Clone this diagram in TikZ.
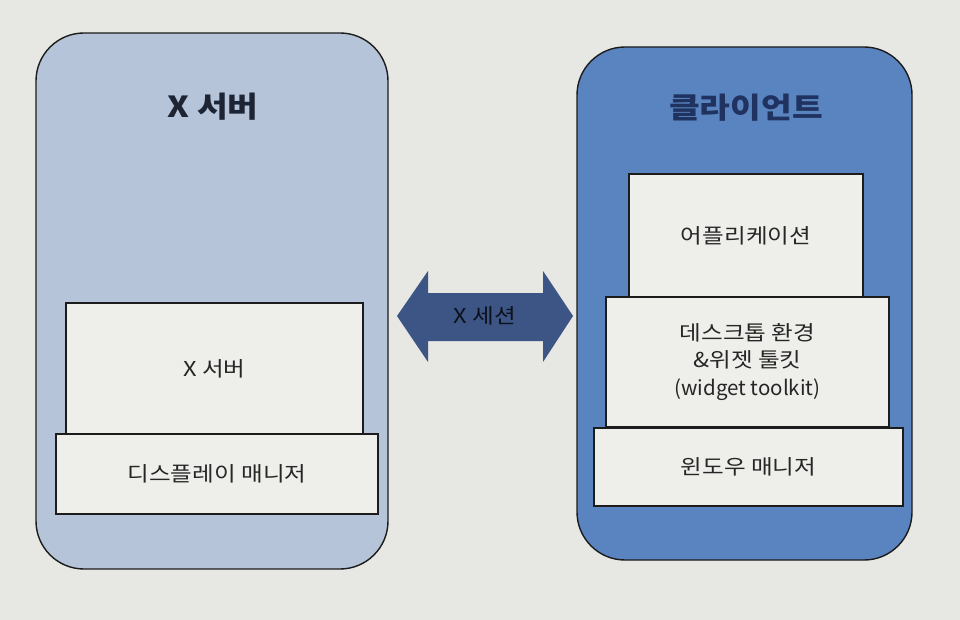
\documentclass[tikz,border=0pt]{standalone}
\usepackage{fontspec}
\setmainfont[FakeStretch=1.15]{Noto Sans CJK KR}
\newfontfamily\latinfont{Noto Sans CJK KR}
\definecolor{paper}{HTML}{E7E7E3}
\definecolor{leftfill}{HTML}{B6C4D9}
\definecolor{rightfill}{HTML}{5984BF}
\definecolor{arrowfill}{HTML}{3C5585}
\definecolor{boxfill}{HTML}{EEEEEB}
\definecolor{edge}{HTML}{1C1C1C}
\definecolor{titleL}{HTML}{1D2433}
\definecolor{titleR}{HTML}{1F3260}
\tikzset{
  panel/.style={draw=edge, line width=1.4pt, rounded corners=48pt, inner sep=0pt},
  layerbox/.style={draw=edge, line width=1.3pt, fill=boxfill, inner sep=0pt, align=center,
    font=\fontsize{20.5}{27.5}\selectfont, text=black!85},
  titletext/.style={font=\fontsize{29}{34}\selectfont\bfseries},
}
\begin{document}
\begin{tikzpicture}[x=1pt,y=-1pt]
\fill[paper] (0,0) rectangle (960,620);
\useasboundingbox (0,0) rectangle (960,620);

% panels
\node[panel, fill=leftfill, minimum width=352pt, minimum height=536pt] (lp) at (212,301) {};
\node[panel, fill=rightfill, minimum width=335pt, minimum height=513pt] (rp) at (744.5,303.5) {};

% titles
\node[titletext, text=titleL] (lt) at (213,107) {X 서버};
\node[titletext, text=titleR] (rt) at (746,108) {클라이언트};

% left layers
\node[layerbox, minimum width=297pt, minimum height=131pt] (xs) at (214.5,368.5) {X 서버};
\node[layerbox, minimum width=322pt, minimum height=80pt] (dm) at (217,474) {디스플레이 매니저};

% right layers
\node[layerbox, minimum width=234pt, minimum height=124pt] (app) at (746,236) {어플리케이션};
\node[layerbox, minimum width=283pt, minimum height=130pt] (de) at (747.5,362) {데스크톱 환경\\\&위젯 툴킷\\{\latinfont (widget toolkit)}};
\node[layerbox, minimum width=309pt, minimum height=78pt] (wm) at (748.5,467) {윈도우 매니저};

% double arrow (X session)
\fill[arrowfill] (397,316) -- (428,271) -- (428,293) -- (543,293) -- (543,271) -- (573,316)
  -- (543,362) -- (543,341) -- (428,341) -- (428,362) -- cycle;
\node[font=\fontsize{20.5}{22}\selectfont, text=black!80!arrowfill] (xsess) at (485,316) {X 세션};
\end{tikzpicture}
\end{document}
